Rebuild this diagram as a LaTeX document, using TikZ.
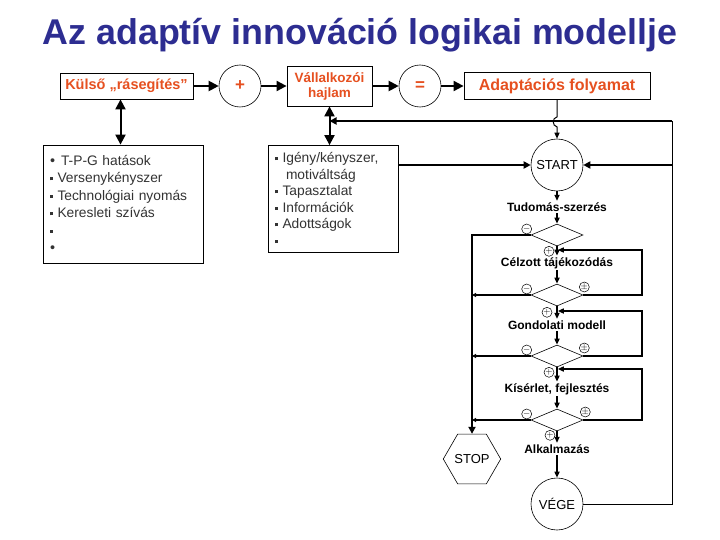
\documentclass[tikz,border=0pt]{standalone}
\usepackage{fontspec}
\setmainfont{Liberation Sans}
\usepackage{tikz}
\usetikzlibrary{arrows.meta,shapes.geometric}
\definecolor{titleblue}{RGB}{45,45,145}
\definecolor{signred}{RGB}{230,80,32}
\newcommand{\sqb}{\rule[2.5pt]{3pt}{3pt}\hspace{4.5pt}}

\begin{document}
\begin{tikzpicture}[x=1pt, y=-1pt,
    topbox/.style = {draw, line width=0.8pt, text=signred, align=center, inner sep=2pt,
        font=\bfseries\fontsize{13.5}{15}\selectfont},
    opcirc/.style = {circle, draw, line width=0.6pt, minimum size=42pt, inner sep=0pt, text=signred,
        font=\bfseries\fontsize{17}{17}\selectfont},
    listbox/.style = {draw, line width=0.8pt, align=left, inner xsep=7pt, text=black!80},
    term/.style = {circle, draw, line width=0.6pt, minimum size=52pt, inner sep=0pt,
        font=\fontsize{13}{13}\selectfont},
    stage/.style = {font=\bfseries\fontsize{12}{14}\selectfont, inner sep=1.5pt},
    decide/.style = {diamond, draw, line width=0.6pt, minimum width=52pt, minimum height=22pt, inner sep=0pt},
    sign/.style = {circle, draw, line width=0.5pt, minimum size=10pt, inner sep=0pt,
        font=\fontsize{9}{9}\selectfont},
    bigarr/.style = {line width=2pt, -{Triangle[length=10pt,width=10pt]}},
    biarr/.style = {line width=2pt, {Triangle[length=10pt,width=10pt]}-{Triangle[length=10pt,width=10pt]}},
    fb/.style = {line width=2pt, -{Triangle[length=7pt,width=7pt]}},
    flow/.style = {line width=1.5pt, -{Triangle[length=6pt,width=5pt]}},
    back/.style = {line width=1.6pt, shorten >=0.8pt, -{Triangle[length=6pt,width=5pt]}},
    exitarr/.style = {line width=2pt, -{Triangle[length=4pt,width=4pt]}},
  ]
  \fill[white] (0,0) rectangle (720,540);
  \useasboundingbox (0,0) rectangle (720,540);

  % title
  \node[text=titleblue, font=\bfseries\fontsize{35.8}{40}\selectfont] (title) at (360,35) {Az adaptív innováció logikai modellje};

  % top row
  \node[topbox, minimum width=133pt, minimum height=26pt, font=\bfseries\fontsize{14.5}{16}\selectfont] (ext) at (126.5,86) {Külső „rásegítés”};
  \node[opcirc] (plus) at (240,86) {+};
  \node[topbox, minimum width=85pt, minimum height=40pt] (hajlam) at (329.5,86) {Vállalkozói\\hajlam};
  \node[opcirc] (eq) at (420,86) {=};
  \node[topbox, minimum width=186pt, minimum height=27pt, font=\bfseries\fontsize{16}{18}\selectfont] (adapt) at (557,86) {Adaptációs folyamat};

  \draw[bigarr] (ext) -- (plus);
  \draw[bigarr] (plus) -- (hajlam);
  \draw[bigarr] (hajlam) -- (eq);
  \draw[bigarr] (eq) -- (adapt);

  % lists
  \node[listbox, minimum width=160pt, minimum height=118pt, text width=146pt,
      font=\fontsize{13.8}{17.5}\selectfont] (tpg) at (123,204)
      {{\Large•}\hspace{6pt}T-P-G hatások\\ \sqb Versenykényszer\\ \sqb Technológiai nyomás\\
       \sqb Keresleti szívás\\ \sqb\\ {\Large•}};
  \node[listbox, minimum width=130pt, minimum height=107pt, text width=116pt,
      font=\fontsize{13.8}{16.6}\selectfont] (mot) at (333,199)
      {\sqb Igény/kényszer,\\ \hspace*{11pt}motiváltság\\ \sqb Tapasztalat\\ \sqb Információk\\
       \sqb Adottságok\\ \sqb};

  \draw[biarr] ([xshift=-6pt]ext.south) -- ([xshift=-6pt]ext.south |- tpg.north);
  \draw[biarr] (hajlam.south) -- (hajlam.south |- mot.north);

  % adaptation process
  \node[term] (start) at (557,165) {START};
  \node[stage] (tud) at (557,207) {Tudomás-szerzés};
  \node[decide] (d1) at (557,235) {};
  \node[stage] (celz) at (557,263) {Célzott tájékozódás};
  \node[decide] (d2) at (557,295) {};
  \node[stage] (gond) at (557,325) {Gondolati modell};
  \node[decide] (d3) at (557,356) {};
  \node[stage] (kis) at (557,389) {Kísérlet, fejlesztés};
  \node[decide] (d4) at (557,420) {};
  \node[stage] (alk) at (557,449) {Alkalmazás};
  \node[term] (vege) at (557,504) {VÉGE};
  \node[regular polygon, regular polygon sides=6, draw, line width=0.6pt, minimum size=51pt, inner sep=0pt,
      font=\fontsize{13}{13}\selectfont] (stop) at (472,459) {STOP};

  \node[sign] (m1) at ([shift={(-4,-6)}]d1.west) {$-$};
  \node[sign] (p1) at ([shift={(-8,5)}]d1.south) {$+$};
  \node[sign] (m2) at ([shift={(-4,-6)}]d2.west) {$-$};
  \node[sign] (q2) at ([shift={(1,-8)}]d2.east) {$\pm$};
  \node[sign] (p2) at ([shift={(-10,6)}]d2.south) {$+$};
  \node[sign] (m3) at ([shift={(-4,-6)}]d3.west) {$-$};
  \node[sign] (q3) at ([shift={(1,-8)}]d3.east) {$\pm$};
  \node[sign] (p3) at ([shift={(-8,5)}]d3.south) {$+$};
  \node[sign] (m4) at ([shift={(-4,-6)}]d4.west) {$-$};
  \node[sign] (q4) at ([shift={(2,-8)}]d4.east) {$\pm$};
  \node[sign] (p4) at ([shift={(-7,4)}]d4.south) {$+$};

  \coordinate (rt) at (672,121);
  \coordinate (r1) at (642,250);
  \coordinate (r2) at (642,311);
  \coordinate (r3) at (642,369);

  \draw[line width=1pt, -{Triangle[length=6pt,width=5pt]}] (adapt.south) -- ++(0,17)
      .. controls +(-5,1) and +(-5,-1) .. ++(0,10) -- (start.north);
  \draw[fb] (rt) -- (hajlam.south |- rt);
  \draw[fb] (mot.east |- start) -- (start.west);
  \draw[fb] (rt |- start) -- (start.east);
  \draw[line width=0.8pt] (vege.east) -| (rt);

  \draw[flow] (start) -- (tud);
  \draw[flow] (tud) -- (d1);
  \draw[flow] (d1) -- (celz);
  \draw[flow] (celz) -- (d2);
  \draw[flow] (d2) -- (gond);
  \draw[flow] (gond) -- (d3);
  \draw[flow] (d3) -- (kis);
  \draw[flow] (kis) -- (d4);
  \draw[flow] (d4) -- (alk);
  \draw[flow] (alk) -- (vege);

  % repeat loops
  \draw[back] (d2.east) -| (r1) -- (celz |- r1);
  \draw[back] (d3.east) -| (r2) -- (gond |- r2);
  \draw[back] (d4.east) -| (r3) -- (kis |- r3);

  % exit to STOP
  \draw[fb] (d1.west) -| (stop.north);
  \draw[exitarr] (d2.west) -- (d2.west -| stop.north);
  \draw[exitarr] (d3.west) -- (d3.west -| stop.north);
  \draw[exitarr] (d4.west) -- (d4.west -| stop.north);
\end{tikzpicture}
\end{document}
